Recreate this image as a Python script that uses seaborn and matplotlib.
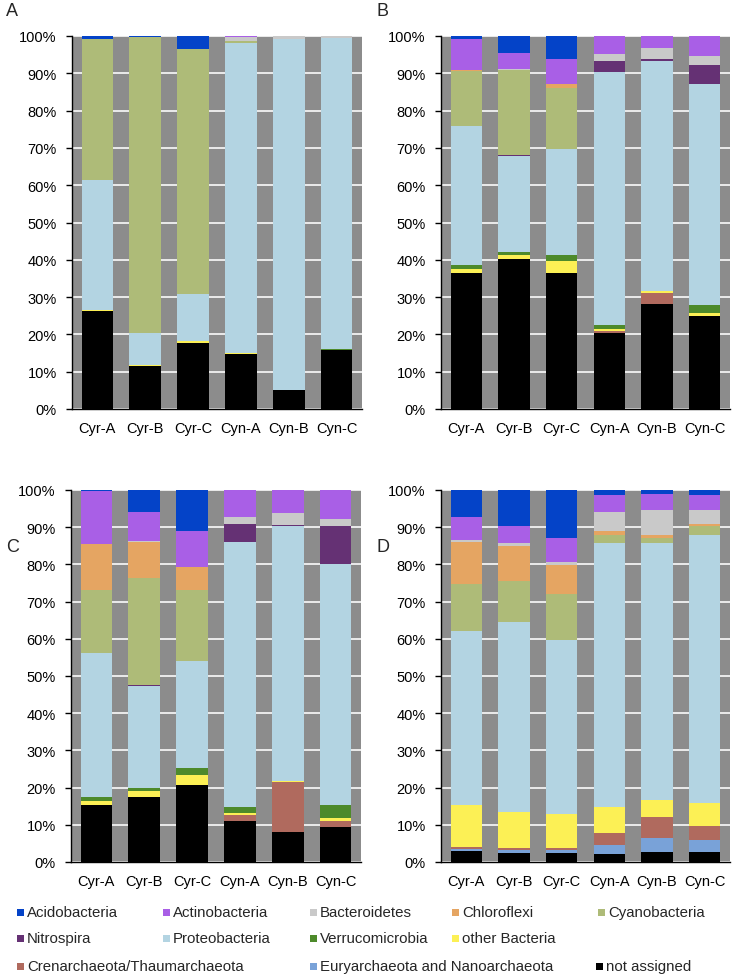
import numpy as np
import pandas as pd
import matplotlib
matplotlib.use("Agg")
import matplotlib.pyplot as plt
import seaborn as sns
from matplotlib.patches import Rectangle

sns.set_theme(style="white")
plt.rcParams['font.family'] = ['Liberation Sans', 'DejaVu Sans']

samples = ["Cyr-A", "Cyr-B", "Cyr-C", "Cyn-A", "Cyn-B", "Cyn-C"]

# taxa listed from bottom of stack to top
taxa = ["not assigned", "Euryarchaeota and Nanoarchaeota", "Crenarchaeota/Thaumarchaeota",
        "other Bacteria", "Verrucomicrobia", "Proteobacteria", "Nitrospira", "Cyanobacteria",
        "Chloroflexi", "Bacteroidetes", "Actinobacteria", "Acidobacteria"]

colors = {
    "Acidobacteria": "#0443c8",
    "Actinobacteria": "#a95fe6",
    "Bacteroidetes": "#c9c9c9",
    "Chloroflexi": "#e5a562",
    "Cyanobacteria": "#aebb78",
    "Nitrospira": "#653174",
    "Proteobacteria": "#b3d4e2",
    "Verrucomicrobia": "#4d8a2b",
    "other Bacteria": "#fcf055",
    "Crenarchaeota/Thaumarchaeota": "#b06a5e",
    "Euryarchaeota and Nanoarchaeota": "#79a2d8",
    "not assigned": "#000000",
}

# Panel A values (%), per taxon, per sample
A_not_assigned = [26.2, 11.4, 17.7, 14.8, 5.2, 15.8]
A_eury = [0, 0, 0, 0, 0, 0]
A_creno = [0, 0, 0, 0, 0, 0]
A_other = [0.4, 0.4, 0.6, 0.3, 0, 0]
A_verruco = [0, 0, 0, 0, 0, 0.3]
A_proteo = [34.8, 8.6, 12.6, 83.1, 93.9, 83.4]
A_nitro = [0, 0, 0, 0, 0, 0]
A_cyano = [37.9, 79.3, 65.7, 0.5, 0, 0]
A_chloro = [0, 0, 0, 0, 0, 0]
A_bactero = [0, 0, 0, 1.0, 0.9, 0.5]
A_actino = [0, 0, 0, 0.4, 0, 0]
A_acido = [0.7, 0.3, 3.4, 0, 0, 0]

# Panel B
B_not_assigned = [36.5, 40.1, 36.5, 20.3, 28.2, 24.9]
B_eury = [0, 0, 0, 0, 0, 0]
B_creno = [0, 0, 0, 0.7, 2.9, 0]
B_other = [1.1, 1.3, 3.2, 0.5, 0.6, 0.8]
B_verruco = [1.1, 0.6, 1.7, 0.9, 0, 2.2]
B_proteo = [37.3, 25.7, 28.4, 67.9, 61.7, 59.2]
B_nitro = [0, 0.5, 0, 3.1, 0.3, 5.2]
B_cyano = [14.5, 22.6, 16.2, 0, 0, 0]
B_chloro = [0.3, 0.15, 1.2, 0, 0, 0]
B_bactero = [0, 0.15, 0, 1.9, 3.1, 2.4]
B_actino = [8.5, 4.4, 6.5, 4.7, 3.2, 5.3]
B_acido = [0.7, 4.5, 6.3, 0, 0, 0]

# Panel C
C_not_assigned = [15.2, 17.6, 20.6, 11.1, 8.1, 9.4]
C_eury = [0, 0, 0, 0, 0, 0]
C_creno = [0, 0, 0, 1.6, 13.3, 1.6]
C_other = [1.2, 1.6, 2.9, 0.4, 0.4, 0.7]
C_verruco = [1.1, 0.7, 1.7, 1.6, 0, 3.5]
C_proteo = [38.7, 27.4, 28.7, 71.4, 68.6, 64.9]
C_nitro = [0, 0.3, 0, 4.7, 0.3, 10.1]
C_cyano = [17.0, 28.8, 19.1, 0, 0, 0]
C_chloro = [12.2, 9.5, 6.2, 0, 0, 0]
C_bactero = [0, 0.3, 0, 1.9, 3.1, 1.9]
C_actino = [14.3, 8.0, 9.7, 7.3, 6.2, 7.9]
C_acido = [0.3, 5.8, 11.1, 0, 0, 0]

# Panel D
D_not_assigned = [2.9, 2.5, 2.5, 2.1, 2.8, 2.8]
D_eury = [0.7, 0.8, 0.8, 2.6, 3.6, 3.2]
D_creno = [0.5, 0.5, 0.4, 3.0, 5.6, 3.6]
D_other = [11.3, 9.6, 9.3, 7.0, 4.6, 6.3]
D_verruco = [0, 0, 0, 0, 0, 0]
D_proteo = [46.6, 51.1, 46.7, 71.1, 69.2, 72.0]
D_nitro = [0, 0, 0, 0, 0, 0]
D_cyano = [12.6, 11.1, 12.2, 2.2, 1.2, 2.3]
D_chloro = [11.3, 9.3, 7.9, 0.9, 0.9, 0.7]
D_bactero = [0.7, 0.9, 0.7, 5.3, 6.6, 3.6]
D_actino = [6.2, 4.6, 6.5, 4.5, 4.4, 4.2]
D_acido = [7.2, 9.6, 12.9, 1.3, 1.1, 1.3]

panels = {
    "A": [A_not_assigned, A_eury, A_creno, A_other, A_verruco, A_proteo, A_nitro,
          A_cyano, A_chloro, A_bactero, A_actino, A_acido],
    "B": [B_not_assigned, B_eury, B_creno, B_other, B_verruco, B_proteo, B_nitro,
          B_cyano, B_chloro, B_bactero, B_actino, B_acido],
    "C": [C_not_assigned, C_eury, C_creno, C_other, C_verruco, C_proteo, C_nitro,
          C_cyano, C_chloro, C_bactero, C_actino, C_acido],
    "D": [D_not_assigned, D_eury, D_creno, D_other, D_verruco, D_proteo, D_nitro,
          D_cyano, D_chloro, D_bactero, D_actino, D_acido],
}

W, H = 733, 978
fig = plt.figure(figsize=(W / 100, H / 100), dpi=100)

# axes boxes in pixels: left, top, right, bottom
boxes = {
    "A": (72, 37, 362, 410),
    "B": (441, 37, 730, 410),
    "C": (71, 491, 361, 863),
    "D": (441, 491, 730, 863),
}
label_pos = {"A": (6, 12), "B": (376, 12), "C": (6, 548), "D": (376, 548)}

for key, vals in panels.items():
    l, t, r, b = boxes[key]
    ax = fig.add_axes([l / W, 1 - b / H, (r - l) / W, (b - t) / H])
    ax.set_facecolor("#8c8c8c")
    arr = np.array(vals, dtype=float)
    cum = np.cumsum(arr, axis=0)
    cum = cum / cum[-1] * 100.0
    for i in range(len(taxa) - 1, -1, -1):
        df = pd.DataFrame({"sample": samples, "value": cum[i]})
        sns.barplot(data=df, x="sample", y="value", color=colors[taxa[i]],
                    saturation=1, width=0.66, linewidth=0, edgecolor="none",
                    ax=ax, zorder=3)
    ax.set_xlim(-0.53, 5.53)
    ax.set_ylim(0, 100)
    ax.set_yticks(np.arange(0, 101, 10))
    ax.set_yticklabels([f"{v}%" for v in range(0, 101, 10)])
    ax.yaxis.grid(True, color="#f2f2f2", linewidth=1.3, zorder=1)
    ax.xaxis.grid(False)
    ax.set_axisbelow(True)
    for s in ["top", "right"]:
        ax.spines[s].set_visible(False)
    for s in ["left", "bottom"]:
        ax.spines[s].set_visible(True)
        ax.spines[s].set_color("black")
        ax.spines[s].set_linewidth(1.0)
    ax.tick_params(axis="y", which="major", left=True, length=4, width=1,
                   color="black", labelsize=10.5, pad=7, labelcolor="black")
    ax.tick_params(axis="x", bottom=False, labelsize=10.5, pad=2.5, labelcolor="black")
    ax.set_xlabel("")
    ax.set_ylabel("")
    lx, ly = label_pos[key]
    fig.text(lx / W, 1 - ly / H, key, fontsize=13, ha="left", va="center")

# legend entries: (label, square x, row y) in pixels
legend_layout = [
    ("Acidobacteria", 17, 913), ("Actinobacteria", 163, 913), ("Bacteroidetes", 310, 913),
    ("Chloroflexi", 452, 913), ("Cyanobacteria", 598, 913),
    ("Nitrospira", 17, 939), ("Proteobacteria", 163, 939), ("Verrucomicrobia", 310, 939),
    ("other Bacteria", 452, 939),
    ("Crenarchaeota/Thaumarchaeota", 17, 967), ("Euryarchaeota and Nanoarchaeota", 310, 967),
    ("not assigned", 596, 967),
]
for lab, x, y in legend_layout:
    sq = 7
    fig.patches.append(Rectangle((x / W, 1 - (y + sq / 2) / H), sq / W, sq / H,
                                 transform=fig.transFigure, facecolor=colors[lab],
                                 edgecolor="none"))
    fig.text((x + sq + 3) / W, 1 - y / H, lab, fontsize=10.8,
             ha="left", va="center")

fig.savefig("out.png", dpi=100)
